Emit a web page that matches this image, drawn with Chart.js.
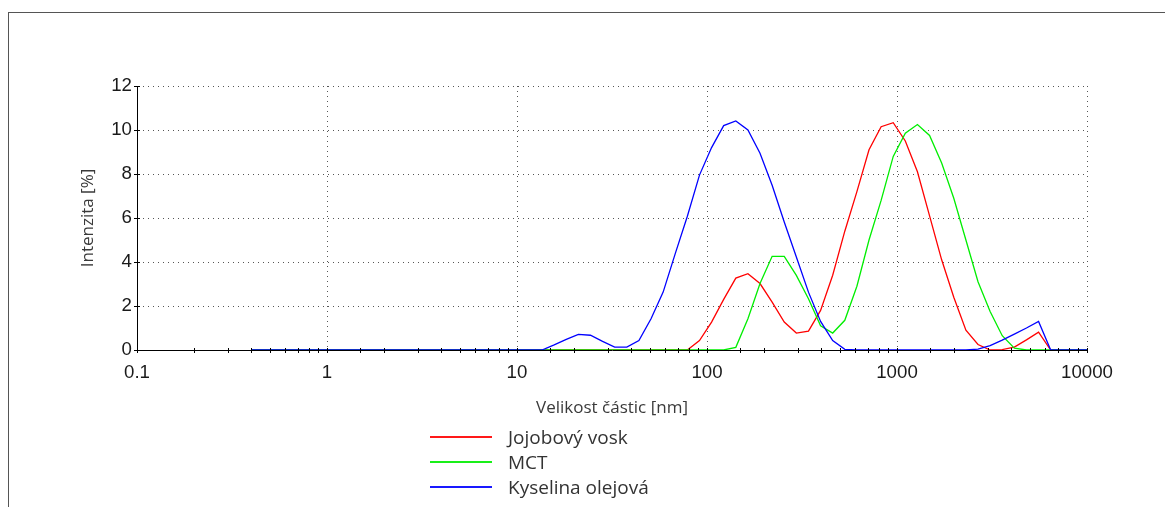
<!DOCTYPE html>
<html lang="cs">
<head>
<meta charset="utf-8">
<title>Distribuce velikosti částic</title>
<script src="https://cdn.jsdelivr.net/npm/chart.js@4.4.1/dist/chart.umd.min.js"></script>
<style>
    html, body { margin: 0; padding: 0; background: #fff; }
    #wrap { position: relative; width: 1165px; height: 507px; overflow: hidden; }
    #frame {
        position: absolute; left: 8px; top: 12px; right: -4px; bottom: -4px;
        border-top: 1.5px solid #555; border-left: 1.5px solid #555;
    }
    #chart { position: absolute; left: 0; top: 0; }
    #legend {
        position: absolute; left: 430px; top: 424px;
        font-family: "Open Sans", sans-serif; font-size: 19px; color: #333;
    }
    #legend .item { display: flex; align-items: center; height: 25px; }
    #legend .swatch { width: 62px; height: 1px; border-bottom: 1px solid; opacity: 0.9; margin-right: 16px; }
</style>
</head>
<body>
<div id="wrap">
    <div id="frame"></div>
    <canvas id="chart" width="1165" height="507"></canvas>
    <div id="legend"></div>
</div>
<script>
// Size classes [nm] of the measurement (log spaced, 0.4 - 10000 nm)
const sizes = [
    0.4, 0.4632, 0.5365, 0.6213, 0.7195, 0.8332, 0.9649, 1.117, 1.294, 1.499,
    1.736, 2.01, 2.328, 2.696, 3.122, 3.615, 4.187, 4.849, 5.615, 6.503,
    7.531, 8.721, 10.1, 11.7, 13.54, 15.69, 18.17, 21.04, 24.36, 28.21,
    32.67, 37.84, 43.82, 50.75, 58.77, 68.06, 78.82, 91.28, 105.7, 122.4,
    141.8, 164.2, 190.1, 220.2, 255.0, 295.3, 342.0, 396.1, 458.7, 531.2,
    615.1, 712.4, 825.0, 955.4, 1106, 1281, 1484, 1718, 1990, 2305,
    2669, 3091, 3580, 4145, 4801, 5560, 6439, 7456, 8635, 10000,
];

// Intensity [%] per size class
const jojobaWax = [
    0, 0, 0, 0, 0, 0, 0, 0, 0, 0,
    0, 0, 0, 0, 0, 0, 0, 0, 0, 0,
    0, 0, 0, 0, 0, 0, 0, 0, 0, 0,
    0, 0, 0, 0, 0, 0, 0, 0.43, 1.27, 2.3,
    3.27, 3.47, 3.02, 2.18, 1.27, 0.77, 0.86, 1.8, 3.4, 5.4,
    7.2, 9.1, 10.15, 10.33, 9.5, 8.1, 6.1, 4.1, 2.4, 0.9,
    0.25, 0, 0.02, 0.13, 0.46, 0.81, 0, 0, 0, 0,
];

const mct = [
    0, 0, 0, 0, 0, 0, 0, 0, 0, 0,
    0, 0, 0, 0, 0, 0, 0, 0, 0, 0,
    0, 0, 0, 0, 0, 0, 0, 0, 0, 0,
    0, 0, 0, 0, 0, 0, 0, 0, 0, 0,
    0.12, 1.42, 3.02, 4.26, 4.26, 3.39, 2.33, 1.1, 0.77, 1.35,
    2.9, 5.0, 6.8, 8.8, 9.85, 10.25, 9.75, 8.5, 6.9, 5.0,
    3.1, 1.75, 0.65, 0.08, 0, 0, 0, 0, 0, 0,
];

const oleicAcid = [
    0, 0, 0, 0, 0, 0, 0, 0, 0, 0,
    0, 0, 0, 0, 0, 0, 0, 0, 0, 0,
    0, 0, 0, 0, 0, 0.23, 0.48, 0.71, 0.67, 0.39,
    0.13, 0.13, 0.43, 1.42, 2.63, 4.38, 6.08, 7.95, 9.2, 10.2,
    10.41, 10.0, 8.94, 7.49, 5.82, 4.23, 2.63, 1.3, 0.43, 0.03,
    0, 0, 0, 0, 0, 0, 0, 0, 0, 0,
    0.04, 0.2, 0.45, 0.72, 1.0, 1.3, 0, 0, 0, 0,
];

const seriesNames = ['Jojobový vosk', 'MCT', 'Kyselina olejová'];
const seriesColors = ['#ff0000', '#00ee00', '#0000ff'];
const seriesValues = [jojobaWax, mct, oleicAcid];

const xMin = 0.1;
const xMax = 10000;
const yMin = 0;
const yMax = 12;

const tickFont = { family: '"Liberation Sans", Arial, sans-serif', size: 18.7 };
const titleFont = { family: '"Open Sans", sans-serif', size: 17 };

const isDecade = (v) => {
    const l = Math.log10(v);
    return Math.abs(l - Math.round(l)) < 1e-6;
};

// Small ticks crossing both axis lines (minor ones included)
const crossTicks = {
    id: 'crossTicks',
    afterDraw(chart) {
        const { ctx, scales: { x, y } } = chart;
        ctx.save();
        ctx.strokeStyle = '#000';
        ctx.lineWidth = 1;
        ctx.beginPath();
        x.ticks.forEach((t) => {
            const px = Math.round(x.getPixelForValue(t.value)) + 0.5;
            ctx.moveTo(px, y.bottom - 2);
            ctx.lineTo(px, y.bottom + 3);
        });
        y.ticks.forEach((t) => {
            const py = Math.round(y.getPixelForValue(t.value)) + 0.5;
            ctx.moveTo(x.left - 3, py);
            ctx.lineTo(x.left + 3, py);
        });
        ctx.stroke();
        ctx.restore();
    },
};

const datasets = seriesNames.map((name, i) => ({
    label: name,
    data: sizes.map((s, j) => ({ x: s, y: seriesValues[i][j] })),
    borderColor: seriesColors[i],
    backgroundColor: seriesColors[i],
    borderWidth: 1.3,
    pointRadius: 0,
    tension: 0,
    fill: false,
    order: 2 - i,
}));

new Chart(document.getElementById('chart'), {
    type: 'line',
    data: { datasets },
    plugins: [crossTicks],
    options: {
        responsive: false,
        animation: false,
        devicePixelRatio: 1,
        layout: { padding: { left: 0, top: 86, right: 78, bottom: 87 } },
        plugins: { legend: { display: false }, tooltip: { enabled: false } },
        scales: {
            x: {
                type: 'logarithmic',
                min: xMin,
                max: xMax,
                afterFit: (scale) => { scale.height = 70; },
                border: { color: '#000', width: 1, dash: [1, 4] },
                grid: {
                    drawTicks: false,
                    lineWidth: 1,
                    color: (ctx) => (ctx.tick && isDecade(ctx.tick.value) ? '#555' : 'rgba(0,0,0,0)'),
                },
                ticks: {
                    autoSkip: false,
                    maxRotation: 0,
                    padding: 12,
                    color: '#1a1a1a',
                    font: tickFont,
                    callback: (v) => (isDecade(v) ? String(+v.toPrecision(1)) : ''),
                },
                title: {
                    display: true,
                    text: 'Velikost částic [nm]',
                    color: '#3a3a3a',
                    font: titleFont,
                    padding: { top: 0, bottom: 1.8 },
                },
            },
            y: {
                min: yMin,
                max: yMax,
                afterFit: (scale) => { scale.width = 137; },
                border: { color: '#000', width: 1, dash: [1, 4] },
                grid: {
                    drawTicks: false,
                    lineWidth: 1,
                    color: (ctx) => (ctx.tick && ctx.tick.value % 2 === 0 ? '#555' : 'rgba(0,0,0,0)'),
                },
                ticks: {
                    stepSize: 1,
                    padding: 5,
                    color: '#1a1a1a',
                    font: tickFont,
                    callback: (v) => (v % 2 === 0 ? v : ''),
                },
                title: {
                    display: true,
                    text: 'Intenzita [%]',
                    color: '#3a3a3a',
                    font: titleFont,
                    padding: { top: 77.8, bottom: 0 },
                },
            },
        },
    },
});

// Legend as a plain list under the plot
const legend = document.getElementById('legend');
seriesNames.forEach((name, i) => {
    const item = document.createElement('div');
    item.className = 'item';
    const swatch = document.createElement('span');
    swatch.className = 'swatch';
    swatch.style.background = seriesColors[i];
    swatch.style.borderBottomColor = seriesColors[i];
    const text = document.createElement('span');
    text.textContent = name;
    item.append(swatch, text);
    legend.appendChild(item);
});
</script>
</body>
</html>
